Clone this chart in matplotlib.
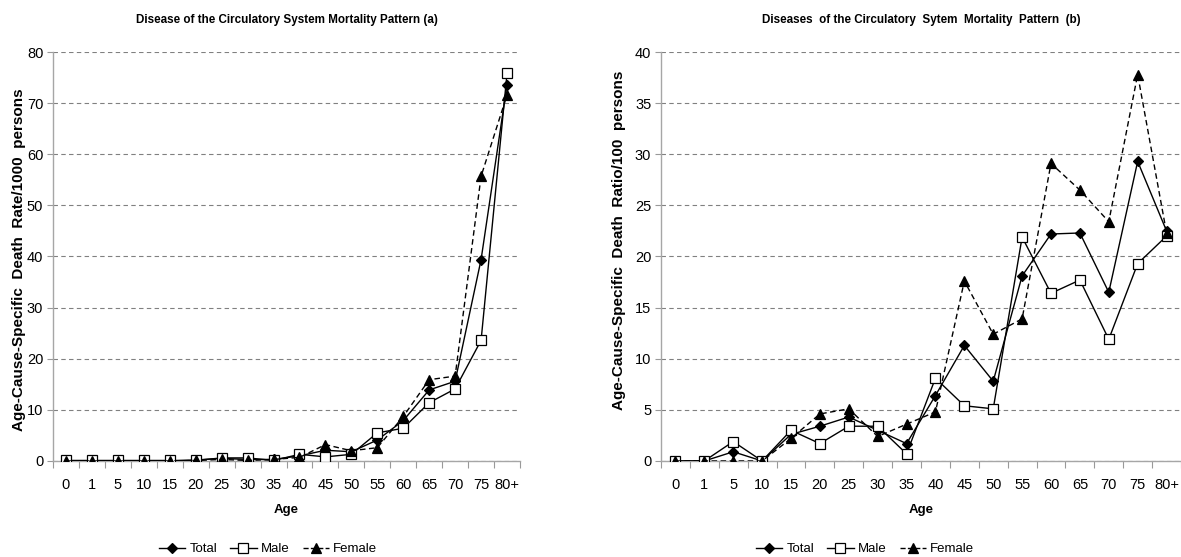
import numpy as np
import matplotlib
matplotlib.use("Agg")
import matplotlib.pyplot as plt
from matplotlib.lines import Line2D

############################################################################
# Data
############################################################################

ages = ["0", "1", "5", "10", "15", "20", "25", "30", "35", "40",
        "45", "50", "55", "60", "65", "70", "75", "80+"]

# (a) death rate per 1000 persons
rate_total  = [0.0, 0.0, 0.0, 0.0, 0.0, 0.2, 0.5, 0.3, 0.3, 1.0,
               2.1, 1.8, 4.1, 7.9, 13.9, 15.6, 39.4, 73.6]
rate_male   = [0.1, 0.1, 0.1, 0.1, 0.1, 0.1, 0.6, 0.6, 0.1, 1.3,
               0.8, 1.3, 5.5, 6.4, 11.4, 14.1, 23.6, 75.8]
rate_female = [0.0, 0.0, 0.0, 0.0, 0.0, 0.1, 0.3, 0.1, 0.3, 0.7,
               3.2, 2.0, 2.6, 8.7, 15.9, 16.6, 55.7, 71.6]

# (b) death ratio per 100 persons
ratio_total  = [0.0, 0.0, 0.9, 0.0, 2.6, 3.4, 4.3, 3.0, 1.7, 6.4,
                11.3, 7.8, 18.1, 22.2, 22.3, 16.5, 29.3, 22.5]
ratio_male   = [0.0, 0.0, 1.9, 0.0, 3.0, 1.7, 3.4, 3.4, 0.7, 8.1,
                5.4, 5.1, 21.9, 16.4, 17.7, 11.9, 19.3, 22.0]
ratio_female = [0.0, 0.0, 0.0, 0.0, 2.2, 4.6, 5.1, 2.4, 3.6, 4.8,
                17.6, 12.4, 13.9, 29.1, 26.5, 23.4, 37.8, 22.3]

############################################################################
# Styles
############################################################################

font = ["Liberation Sans", "DejaVu Sans"]

styles = {
    "Total":  dict(ls="-",  marker="D", ms=5.5, mfc="black", mec="black"),
    "Male":   dict(ls="-",  marker="s", ms=7,   mfc="white", mec="black"),
    "Female": dict(ls="--", marker="^", ms=7,   mfc="black", mec="black"),
}

fig = plt.figure(figsize=(11.81, 5.57), dpi=100)
axA = fig.add_axes([53 / 1181, 0.1724, 467 / 1181, 0.7342])
axB = fig.add_axes([661 / 1181, 0.1724, 520 / 1181, 0.7342])


def draw(ax, series, ymax, ystep, title, ylabel, ylab_xy):
    x = np.arange(len(ages))
    for name, vals in series:
        st = styles[name]
        ax.plot(x, vals, color="black", lw=1.0, mew=0.9, zorder=3,
                dashes=(4, 2.5) if name == "Female" else (None, None),
                marker=st["marker"], ms=st["ms"], mfc=st["mfc"], mec=st["mec"])

    ax.set_xlim(-0.5, len(ages) - 0.5)
    ax.set_ylim(0, ymax)

    # category ticks sit between the groups, labels in the middle
    ax.set_xticks(np.arange(-0.5, len(ages), 1.0))
    ax.set_xticklabels([])
    ax.set_xticks(x, minor=True)
    ax.set_xticklabels(ages, minor=True, family=font, fontsize=10.5)
    ax.tick_params(axis="x", which="major", length=5, color="#999999", direction="out")
    ax.tick_params(axis="x", which="minor", length=0, pad=12)

    yt = np.arange(0, ymax + 0.1, ystep)
    ax.set_yticks(yt)
    ax.set_yticklabels([f"{v:g}" for v in yt], family=font, fontsize=10.5)
    ax.tick_params(axis="y", length=4, color="#999999", pad=3)

    for s in ["top", "right"]:
        ax.spines[s].set_visible(False)
    for s in ["left", "bottom"]:
        ax.spines[s].set_color("#a6a6a6")
        ax.spines[s].set_linewidth(1.0)

    ax.yaxis.grid(True, ls=(0, (4, 3)), color="#808080", lw=0.8)
    ax.set_axisbelow(True)

    ax.set_title(title, family=font, fontweight="bold", fontsize=8.4, pad=21)
    ax.set_xlabel("Age", family=font, fontweight="bold", fontsize=9.5, labelpad=9)
    ax.set_ylabel(ylabel, family=font, fontweight="bold", fontsize=11)
    ax.yaxis.set_label_coords(*ylab_xy)


draw(axA, [("Total", rate_total), ("Male", rate_male), ("Female", rate_female)],
     80, 10, "Disease of the Circulatory System Mortality Pattern (a)",
     "Age-Cause-Specific  Death  Rate/1000  persons", (-0.057, 0.493))
draw(axB, [("Total", ratio_total), ("Male", ratio_male), ("Female", ratio_female)],
     40, 5, "Diseases  of the Circulatory  Sytem  Mortality  Pattern  (b)",
     "Age-Cause-Specific  Death  Ratio/100  persons", (-0.068, 0.54))

# legends under each panel
handles = []
for name in ["Total", "Male", "Female"]:
    st = styles[name]
    handles.append(Line2D([], [], color="black", lw=1.0, mew=0.9,
                          ls=st["ls"], marker=st["marker"], ms=st["ms"] - 0.5,
                          mfc=st["mfc"], mec=st["mec"]))
for cx in [268 / 1181, 865 / 1181]:
    fig.legend(handles, ["Total", "Male", "Female"], loc="center",
               bbox_to_anchor=(cx, 1 - 549 / 557), ncol=3, frameon=False,
               prop=dict(family=font, size=9.5), handlelength=2.0,
               handletextpad=0.3, columnspacing=1.0, borderaxespad=0)

fig.savefig("out.png", dpi=100)
